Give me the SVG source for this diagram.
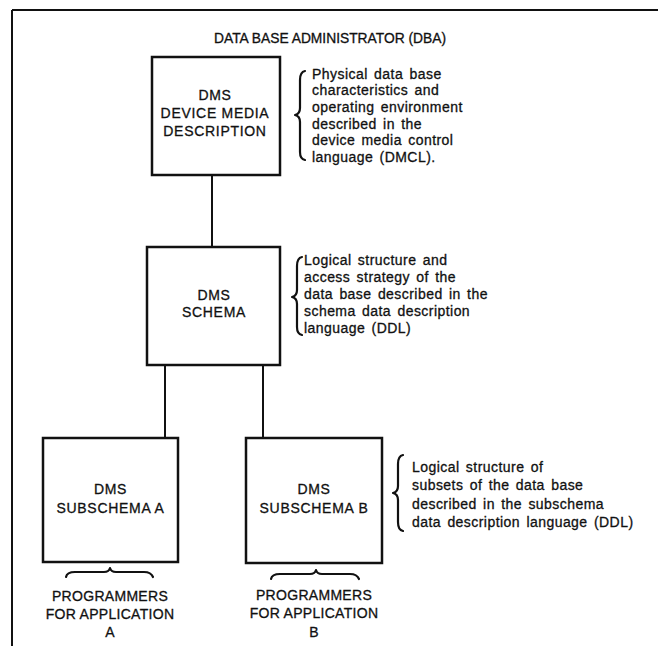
<svg xmlns="http://www.w3.org/2000/svg" width="658" height="649" viewBox="0 0 658 649">
<style>
text{font-family:"Liberation Sans",Arial,sans-serif;fill:#111;stroke:#111;stroke-width:0.3;}
.cap{font-size:14px;text-anchor:middle;letter-spacing:0.7px;}
.bot{font-size:14px;text-anchor:middle;letter-spacing:0.3px;}
.title{font-size:13.8px;text-anchor:middle;}
.note{font-size:14px;letter-spacing:0.45px;word-spacing:2px;}
.box{fill:none;stroke:#111;stroke-width:2.5;}
.line{stroke:#111;stroke-width:2;fill:none;}
.brace{fill:none;stroke:#111;stroke-width:2.2;stroke-linecap:round;stroke-linejoin:round;}
</style>
<rect width="658" height="649" fill="#fff"/>
<g id="frame">
<path class="line" d="M12,10 H658 M12,10 V646"/>
<text class="title" x="330" y="43">DATA BASE ADMINISTRATOR (DBA)</text>
</g>
<g id="connectors">
<line class="line" x1="212" y1="175" x2="212" y2="247"/>
<line class="line" x1="165" y1="365" x2="165" y2="438"/>
<line class="line" x1="263" y1="365" x2="263" y2="438"/>
</g>
<g id="dmcl">
<rect class="box" x="152" y="57" width="128" height="118"/>
<text class="cap" x="215" y="100">DMS</text>
<text class="cap" x="215" y="118">DEVICE MEDIA</text>
<text class="cap" x="215" y="135.5">DESCRIPTION</text>
</g>
<g id="dmcl-note">
<path class="brace" d="M305,71 Q300,72 300,80 L300,108 Q300,114 295,115 Q300,116 300,122 L300,152 Q300,159 305,160"/>
<text class="note" x="312" y="78.5">Physical data base</text>
<text class="note" x="312" y="95">characteristics and</text>
<text class="note" x="312" y="112">operating environment</text>
<text class="note" x="312" y="128.5">described in the</text>
<text class="note" x="312" y="145">device media control</text>
<text class="note" x="312" y="162">language (DMCL).</text>
</g>
<g id="schema">
<rect class="box" x="147" y="247" width="133" height="118"/>
<text class="cap" x="214" y="300">DMS</text>
<text class="cap" x="214" y="316.5">SCHEMA</text>
</g>
<g id="schema-note">
<path class="brace" d="M302,257 Q297,258 297,266 L297,290 Q297,296 292,297 Q297,298 297,304 L297,327 Q297,334 302,335"/>
<text class="note" x="304" y="265">Logical structure and</text>
<text class="note" x="304" y="282">access strategy of the</text>
<text class="note" x="304" y="299">data base described in the</text>
<text class="note" x="304" y="316">schema data description</text>
<text class="note" x="304" y="333">language (DDL)</text>
</g>
<g id="subschema-a">
<rect class="box" x="43" y="438" width="135" height="124"/>
<text class="cap" x="110.5" y="494">DMS</text>
<text class="cap" x="110.5" y="513">SUBSCHEMA A</text>
</g>
<g id="programmers-a">
<path class="brace" d="M66,577 Q67,572 75,572 L104,572 Q109,572 110,568 Q111,572 116,572 L144,572 Q151,572 153,577"/>
<text class="bot" x="110" y="601">PROGRAMMERS</text>
<text class="bot" x="110" y="619">FOR APPLICATION</text>
<text class="bot" x="110" y="637">A</text>
</g>
<g id="subschema-b">
<rect class="box" x="246" y="438" width="136" height="125"/>
<text class="cap" x="314" y="494">DMS</text>
<text class="cap" x="314" y="513">SUBSCHEMA B</text>
</g>
<g id="programmers-b">
<path class="brace" d="M271,579 Q272,574 280,574 L310,574 Q315,574 316,570 Q317,574 322,574 L350,574 Q357,574 359,579"/>
<text class="bot" x="314" y="600">PROGRAMMERS</text>
<text class="bot" x="314" y="618">FOR APPLICATION</text>
<text class="bot" x="314" y="637">B</text>
</g>
<g id="subschema-note">
<path class="brace" d="M403,455 Q398,456 398,464 L398,486 Q398,492 393,493 Q398,494 398,500 L398,522 Q398,530 403,531"/>
<text class="note" x="412" y="472">Logical structure of</text>
<text class="note" x="412" y="490">subsets of the data base</text>
<text class="note" x="412" y="508.5">described in the subschema</text>
<text class="note" x="412" y="527">data description language (DDL)</text>
</g>
</svg>
